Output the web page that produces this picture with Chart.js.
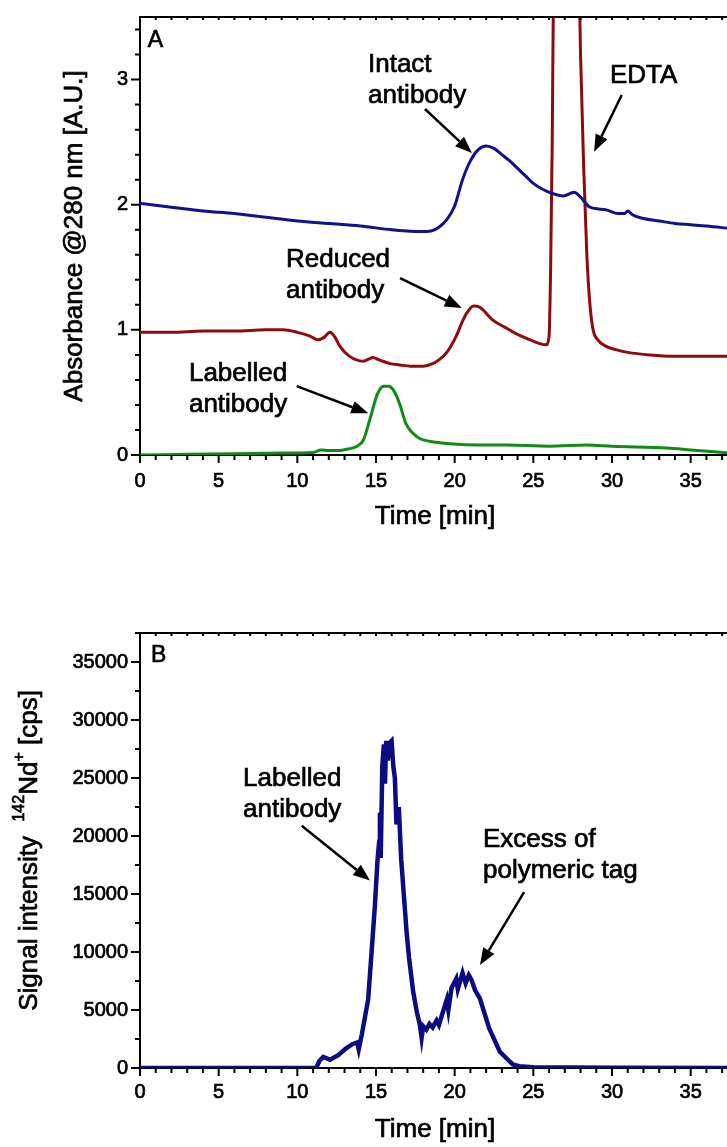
<!DOCTYPE html>
<html lang="en">
<head>
<meta charset="UTF-8">
<title>Chromatograms</title>
<script src="https://cdn.jsdelivr.net/npm/chart.js"></script>
<style>
  html, body { margin: 0; padding: 0; background: #fff; overflow: hidden; }
  #wrap { position: relative; width: 727px; height: 1147px; overflow: hidden; }
  canvas { position: absolute; left: 0; }
  #panelA { top: 0; }
  #panelB { top: 600px; }
</style>
</head>
<body>
<div id="wrap">
  <canvas id="panelA" width="760" height="540"></canvas>
  <canvas id="panelB" width="760" height="560"></canvas>
</div>
<script>
// ---- Panel A : UV absorbance @280 nm ----
const tIntact = [0, 2, 4, 6, 8, 10, 12, 14, 16, 17, 17.8, 18.5, 19.0, 19.5, 20.0, 20.5, 21.0, 21.5, 22.0, 22.5, 23.0, 23.5, 24.0, 24.5, 25.0, 25.5, 26.2, 26.9, 27.6, 28.0, 28.6, 29.6, 30.4, 30.8, 31.0, 31.3, 32, 33, 34, 35, 36, 37.5];
const aIntact = [2.01, 1.98, 1.95, 1.93, 1.90, 1.87, 1.85, 1.83, 1.80, 1.79, 1.785, 1.79, 1.82, 1.88, 1.99, 2.20, 2.35, 2.44, 2.47, 2.45, 2.40, 2.35, 2.29, 2.23, 2.17, 2.13, 2.09, 2.07, 2.10, 2.06, 1.98, 1.96, 1.93, 1.93, 1.95, 1.92, 1.89, 1.87, 1.85, 1.84, 1.83, 1.81];

const tReduced = [0, 2, 4, 6, 8, 9.1, 10.0, 10.8, 11.3, 11.7, 12.07, 12.4, 12.7, 13.3, 14.2, 14.6, 14.8, 15.2, 15.9, 16.5, 17.2, 18.0, 18.6, 19.0, 19.5, 20.1, 20.5, 20.8, 21.2, 21.6, 22.4, 23.2, 23.9, 24.6, 25.4, 25.8, 26.0, 26.1, 26.2, 26.3, 27.0, 27.8, 28.0, 28.2, 28.4, 28.6, 28.8, 29.1, 29.6, 30.3, 31.0, 32.4, 34, 36, 37.5];
const aReduced = [0.98, 0.98, 0.99, 0.99, 1.00, 1.00, 0.98, 0.95, 0.92, 0.94, 0.98, 0.94, 0.87, 0.79, 0.75, 0.77, 0.78, 0.76, 0.73, 0.72, 0.71, 0.71, 0.73, 0.76, 0.82, 0.95, 1.07, 1.14, 1.19, 1.18, 1.08, 1.02, 0.97, 0.93, 0.89, 0.88, 0.95, 1.5, 2.5, 4.0, 6.0, 4.5, 3.2, 2.3, 1.6, 1.2, 1.0, 0.92, 0.87, 0.84, 0.82, 0.80, 0.79, 0.79, 0.79];

const tLabelled = [0, 3, 6, 9, 11.0, 11.5, 12.0, 12.5, 13.3, 13.8, 14.2, 14.6, 15.1, 15.5, 15.8, 16.1, 16.5, 16.9, 17.3, 17.8, 18.4, 19.7, 21.6, 23.3, 26, 28.4, 30, 33.5, 35, 37.5];
const aLabelled = [0.0, 0.005, 0.01, 0.015, 0.02, 0.04, 0.035, 0.035, 0.05, 0.07, 0.12, 0.28, 0.49, 0.55, 0.55, 0.52, 0.41, 0.25, 0.18, 0.13, 0.11, 0.09, 0.08, 0.08, 0.07, 0.08, 0.07, 0.055, 0.04, 0.015];

// ---- Panel B : ICP-MS 142Nd+ ----
const tNd = [0, 5, 10, 11.2, 11.4, 11.65, 12.07, 12.6, 13.1, 13.5, 13.8, 13.9, 14.1, 14.5, 14.72, 14.93, 15.1, 15.2, 15.25, 15.3, 15.4, 15.5, 15.57, 15.65, 15.75, 15.85, 15.99, 16.1, 16.2, 16.3, 16.45, 16.6, 16.94, 17.1, 17.36, 17.6, 17.79, 17.9, 18.0, 18.2, 18.4, 18.6, 18.85, 19.0, 19.2, 19.5, 19.6, 19.8, 20.1, 20.2, 20.5, 20.7, 20.9, 21.07, 21.3, 21.6, 22.2, 22.87, 23.7, 24.1, 25, 30, 37.5];
const cpsNd = [0, 0, 0, 0, 600, 950, 720, 1100, 1700, 2050, 2200, 1600, 2900, 5900, 10000, 14000, 18000, 19500, 22000, 18100, 26000, 27900, 24500, 28200, 26500, 28000, 28200, 26000, 25000, 21000, 22500, 18000, 11800, 9500, 6600, 4800, 3700, 2600, 3600, 3300, 3800, 3500, 4100, 3700, 4600, 5900, 5000, 6900, 7700, 6800, 8200, 7300, 8000, 7600, 6700, 6000, 3400, 1400, 300, 150, 60, 30, 0];

const xTicks = [0, 5, 10, 15, 20, 25, 30, 35];
const yTicksA = [0, 1, 2, 3];
const yTicksB = [0, 5000, 10000, 15000, 20000, 25000, 30000, 35000];

// annotations, anchored in data units
const notesA = [
  { x: 0.5, y: 3.26, lines: ['A'], size: 23 },
  { x: 14.49, y: 3.06, lines: ['Intact', 'antibody'] },
  { x: 29.87, y: 2.97, lines: ['EDTA'] },
  { x: 9.28, y: 1.50, lines: ['Reduced', 'antibody'] },
  { x: 3.11, y: 0.59, lines: ['Labelled', 'antibody'] }
];
const arrowsA = [
  [18.11, 2.765, 21.10, 2.413],
  [30.62, 2.877, 28.86, 2.424],
  [16.53, 1.414, 20.45, 1.175],
  [9.96, 0.551, 14.51, 0.333]
];
const notesB = [
  { x: 0.7, y: 35000, lines: ['B'], size: 23 },
  { x: 6.55, y: 24300, lines: ['Labelled', 'antibody'] },
  { x: 21.8, y: 19050, lines: ['Excess of', 'polymeric tag'] }
];
const arrowsB = [
  [10.28, 20880, 14.62, 16160],
  [24.41, 15160, 21.61, 8870]
];

const FONT = "'Liberation Sans', Arial, Helvetica, sans-serif";
const HEAVY = 0.7; // stroke added to glyphs, reference type is a medium weight
Chart.defaults.font.family = FONT;
Chart.defaults.color = '#000';

const pts = (xs, ys) => xs.map((x, i) => ({ x: x, y: ys[i] }));

function txt(ctx, s, x, y) {
  ctx.fillText(s, x, y);
  ctx.strokeText(s, x, y);
}

const decor = {
  id: 'decor',
  afterDraw(chart, args, o) {
    const { ctx, chartArea: a, scales: { x, y } } = chart;
    ctx.save();
    ctx.strokeStyle = '#000';
    ctx.lineWidth = 2;
    ctx.beginPath();
    ctx.moveTo(a.left, a.top); ctx.lineTo(a.right, a.top); ctx.lineTo(a.right, a.bottom);
    ctx.stroke();

    // tick marks
    ctx.beginPath();
    for (let i = 0; ; i++) {
      const v = x.min + i * o.xMinor;
      if (v > x.max + 1e-9) break;
      const px = x.getPixelForValue(v);
      const major = Math.abs(v / o.xMajor - Math.round(v / o.xMajor)) < 1e-6;
      ctx.moveTo(px, a.bottom); ctx.lineTo(px, a.bottom + (major ? 8 : 5));
      ctx.moveTo(px, a.top); ctx.lineTo(px, a.top + 3);
    }
    for (let i = 0; ; i++) {
      const v = y.min + i * o.yMinor;
      if (v > y.max + 1e-9) break;
      const py = y.getPixelForValue(v);
      const major = Math.abs(v / o.yMajor - Math.round(v / o.yMajor)) < 1e-6;
      ctx.moveTo(a.left, py); ctx.lineTo(a.left - (major ? 9 : 5), py);
    }
    ctx.stroke();

    ctx.fillStyle = '#000';
    ctx.lineWidth = HEAVY;

    // x title
    ctx.font = '26px ' + FONT;
    ctx.textAlign = 'center';
    ctx.textBaseline = 'middle';
    txt(ctx, 'Time [min]', (a.left + a.right) / 2, a.bottom + 62);

    // text labels
    ctx.textAlign = 'left';
    ctx.textBaseline = 'alphabetic';
    o.notes.forEach(n => {
      ctx.font = (n.size || 26) + 'px ' + FONT;
      const px = x.getPixelForValue(n.x), py = y.getPixelForValue(n.y);
      n.lines.forEach((s, k) => txt(ctx, s, px, py + k * 31));
    });

    // arrows
    ctx.lineWidth = 2.5;
    o.arrows.forEach(([x1, y1, x2, y2]) => {
      const ax = x.getPixelForValue(x1), ay = y.getPixelForValue(y1);
      const bx = x.getPixelForValue(x2), by = y.getPixelForValue(y2);
      const ang = Math.atan2(by - ay, bx - ax), L = 17, W = 6.5;
      const cx = bx - L * Math.cos(ang), cy = by - L * Math.sin(ang);
      ctx.beginPath(); ctx.moveTo(ax, ay); ctx.lineTo(cx, cy); ctx.stroke();
      ctx.beginPath();
      ctx.moveTo(bx, by);
      ctx.lineTo(cx + W * Math.sin(ang), cy - W * Math.cos(ang));
      ctx.lineTo(cx - W * Math.sin(ang), cy + W * Math.cos(ang));
      ctx.closePath(); ctx.fill();
    });

    // rotated y title, with superscripts where needed
    ctx.lineWidth = HEAVY;
    ctx.translate(o.yTitleX, (a.top + a.bottom) / 2);
    ctx.rotate(-Math.PI / 2);
    let w = 0;
    o.yTitle.forEach(p => { ctx.font = p.size + 'px ' + FONT; w += ctx.measureText(p.t).width; });
    let cx = -w / 2;
    ctx.textBaseline = 'middle';
    o.yTitle.forEach(p => {
      ctx.font = p.size + 'px ' + FONT;
      txt(ctx, p.t, cx, p.up ? -10 : 0);
      cx += ctx.measureText(p.t).width;
    });
    ctx.restore();
  }
};

function useTicks(list) {
  return scale => { scale.ticks = list.map(v => ({ value: v })); };
}

function makeChart(id, datasets, cfg) {
  return new Chart(document.getElementById(id), {
    type: 'line',
    data: { datasets: datasets },
    options: {
      responsive: false,
      animation: false,
      devicePixelRatio: 1,
      layout: { padding: { top: cfg.padTop, right: 30, left: 0, bottom: 0 } },
      plugins: { legend: { display: false }, tooltip: { enabled: false }, decor: cfg.decor },
      elements: { point: { radius: 0 } },
      scales: {
        x: {
          type: 'linear', min: 0, max: 37.5,
          afterBuildTicks: useTicks(xTicks),
          afterFit: s => { s.height = cfg.xHeight; },
          grid: { display: false },
          border: { color: '#000', width: 2 },
          ticks: { autoSkip: false, maxRotation: 0, padding: cfg.xPad, font: { size: 20 }, color: '#000',
                   textStrokeColor: '#000', textStrokeWidth: HEAVY, callback: v => String(v) }
        },
        y: {
          type: 'linear', min: 0, max: cfg.yMax,
          afterBuildTicks: useTicks(cfg.yTicks),
          afterFit: s => { s.width = 140; },
          grid: { display: false },
          border: { color: '#000', width: 2 },
          ticks: { autoSkip: false, padding: 4, font: { size: 20 }, color: '#000',
                   textStrokeColor: '#000', textStrokeWidth: HEAVY, callback: v => String(v) }
        }
      }
    },
    plugins: [decor]
  });
}

makeChart('panelA', [
  { data: pts(tIntact, aIntact), borderColor: '#11118c', borderWidth: 3, cubicInterpolationMode: 'monotone' },
  { data: pts(tReduced, aReduced), borderColor: '#8e0b0b', borderWidth: 3, cubicInterpolationMode: 'monotone' },
  { data: pts(tLabelled, aLabelled), borderColor: '#138a13', borderWidth: 3, cubicInterpolationMode: 'monotone' }
], {
  padTop: 17, xHeight: 85, xPad: 6,
  yMax: 3.5, yTicks: yTicksA,
  decor: {
    xMinor: 1, xMajor: 5, yMinor: 0.2, yMajor: 1, notes: notesA, arrows: arrowsA,
    yTitleX: 75,
    yTitle: [{ t: 'Absorbance @280 nm [A.U.]', size: 26 }]
  }
});

makeChart('panelB', [
  { data: pts(tNd, cpsNd), borderColor: '#0c0c82', borderWidth: 4.5, tension: 0 }
], {
  padTop: 33, xHeight: 92, xPad: 4,
  yMax: 37500, yTicks: yTicksB,
  decor: {
    xMinor: 1, xMajor: 5, yMinor: 2500, yMajor: 5000, notes: notesB, arrows: arrowsB,
    yTitleX: 30,
    yTitle: [
      { t: 'Signal intensity  ', size: 26 },
      { t: '142', size: 16, up: true },
      { t: 'Nd', size: 26 },
      { t: '+', size: 16, up: true },
      { t: ' [cps]', size: 26 }
    ]
  }
});
</script>
</body>
</html>
